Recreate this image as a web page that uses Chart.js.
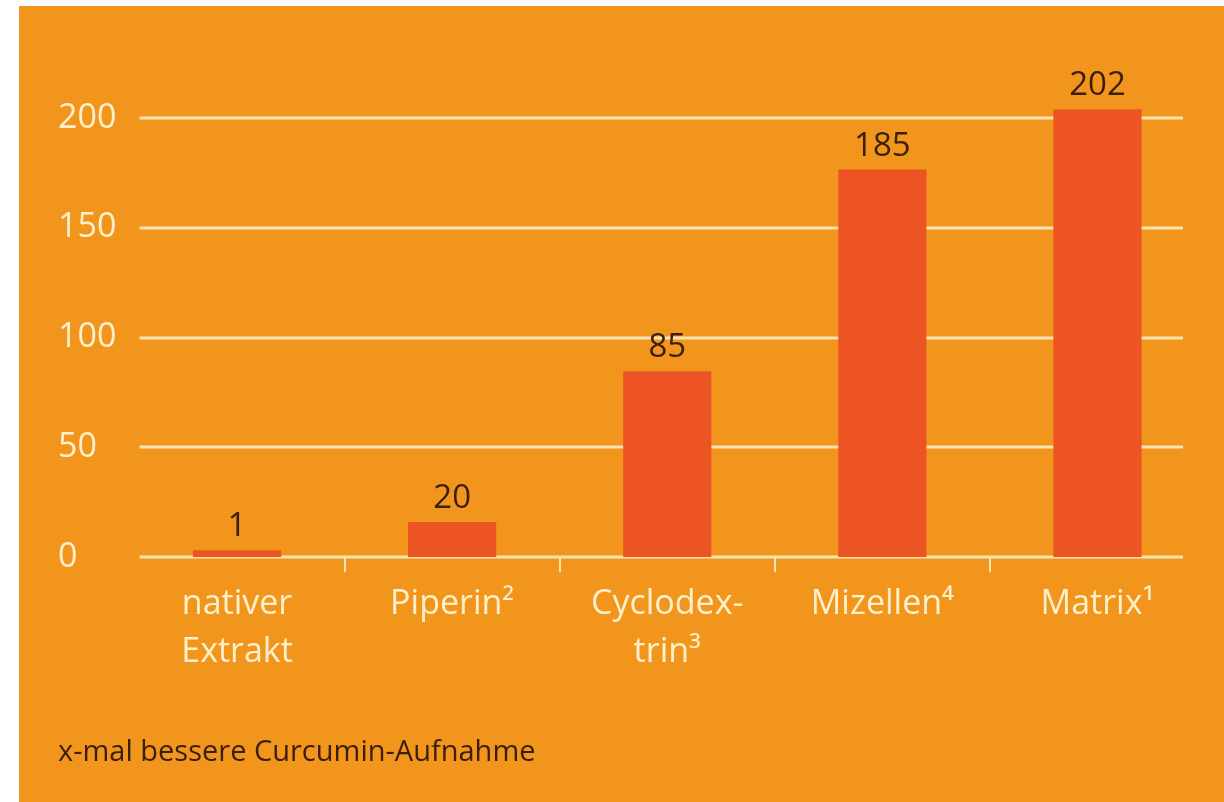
<!DOCTYPE html>
<html>
<head>
<meta charset="utf-8">
<script src="https://cdn.jsdelivr.net/npm/chart.js@4"></script>
<style>
  html, body { margin: 0; padding: 0; background: #ffffff; }
  #wrap { position: absolute; left: 19px; top: 6px; width: 1205px; height: 796px; background: #f2951c; }
</style>
</head>
<body>
<div id="wrap"><canvas id="barChart"></canvas></div>
<script>
// Curcumin uptake bars
const categories = [['nativer', 'Extrakt'], 'Piperin²', ['Cyclodex-', 'trin³'], 'Mizellen⁴', 'Matrix¹'];
const barHeights = [3.2, 16, 84.7, 176.5, 204];   // heights as drawn
const valueLabels = ['1', '20', '85', '185', '202']; // numbers printed above bars
const yTicks = [0, 50, 100, 150, 200];
const caption = 'x-mal bessere Curcumin-Aufnahme';

const cream = '#fbe4b4';
const font = '"Open Sans", Lato, sans-serif';

// horizontal lines, drawn under the bars
const gridLines = {
  id: 'gridLines',
  beforeDatasetsDraw(chart){
    const {ctx, chartArea, scales:{y}} = chart;
    ctx.save();
    ctx.strokeStyle = cream; ctx.lineWidth = 3;
    yTicks.forEach(v=>{
      const py = Math.round(y.getPixelForValue(v));
      ctx.beginPath(); ctx.moveTo(chartArea.left + 10, py); ctx.lineTo(chartArea.right - 22, py); ctx.stroke();
    });
    ctx.restore();
  }
};

// numbers above bars
const valueText = {
  id: 'valueText',
  afterDatasetsDraw(chart){
    const {ctx} = chart;
    const meta = chart.getDatasetMeta(0);
    ctx.save();
    ctx.font = '33px ' + font; ctx.fillStyle = '#3a1e0e';
    ctx.textAlign = 'center'; ctx.textBaseline = 'alphabetic';
    meta.data.forEach((bar, i)=>{ ctx.fillText(valueLabels[i], bar.x, bar.y - 14); });
    ctx.restore();
  }
};

new Chart(document.getElementById('barChart'), {
  type: 'bar',
  data: { labels: categories, datasets: [{ data: barHeights, backgroundColor: '#ec5424', barPercentage: 0.41, categoryPercentage: 1 }] },
  options: {
    responsive: true, maintainAspectRatio: false, animation: false,
    layout: { padding: { left: 39, right: 19, top: 68, bottom: 0 } },
    plugins: {
      legend: { display: false }, tooltip: { enabled: false },
      title: { display: true, text: caption, position: 'bottom', align: 'start', color: '#3a1e0e',
        font: { family: font, size: 29, weight: 'normal' }, padding: { top: 58, bottom: 32 } }
    },
    scales: {
      x: {
        grid: { display: true, offset: true, drawOnChartArea: false, drawTicks: true, tickLength: 15, lineWidth: 2,
          color: c => (c.type !== 'tick' || c.index === 0) ? 'rgba(0,0,0,0)' : cream },
        border: { display: false },
        ticks: { color: '#fff0cc', padding: 8, font: { family: font, size: 34, lineHeight: 1.41 }, maxRotation: 0 },
        afterFit: s => { s.height = 120; }
      },
      y: {
        min: 0, max: 220,
        afterBuildTicks: axis => { axis.ticks = yTicks.map(v => ({ value: v })); },
        grid: { display: false }, border: { display: false },
        ticks: { color: '#fff0cc', crossAlign: 'far', font: { family: font, size: 34 } },
        afterFit: s => { s.width = 71.5; }
      }
    }
  },
  plugins: [gridLines, valueText]
});
</script>
</body>
</html>
